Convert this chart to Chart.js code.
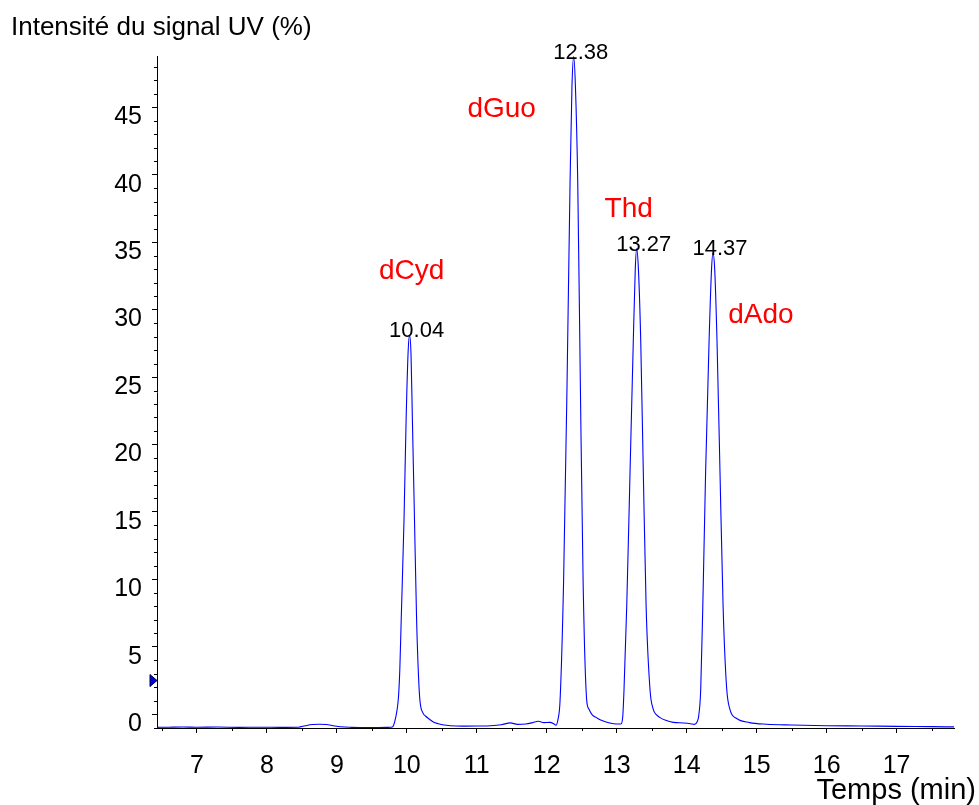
<!DOCTYPE html>
<html>
<head>
<meta charset="utf-8">
<script src="https://cdn.jsdelivr.net/npm/chart.js@4.4.1/dist/chart.umd.min.js"></script>
<style>
  html, body { margin: 0; padding: 0; background: #ffffff; }
  #wrap { position: relative; width: 979px; height: 805px; }
</style>
</head>
<body>
<div id="wrap"><canvas id="c"></canvas></div>
<script>
// ---- data ----
const times = [
  6.43, 6.6, 6.8, 7.0, 7.3, 7.6, 7.9, 8.2, 8.45, 8.55,
  8.65, 8.75, 8.85, 8.95, 9.05, 9.2, 9.4, 9.6, 9.75, 9.80,
  9.83, 9.86, 9.88, 9.90, 9.92, 9.96, 9.99, 10.02, 10.04, 10.06,
  10.08, 10.11, 10.14, 10.17, 10.19, 10.23, 10.27, 10.32, 10.38, 10.45,
  10.53, 10.62, 10.8, 11.0, 11.2, 11.35, 11.48, 11.58, 11.7, 11.8,
  11.88, 11.96, 12.04, 12.1, 12.13, 12.16, 12.19, 12.24, 12.29, 12.333,
  12.36, 12.385, 12.41, 12.443, 12.48, 12.52, 12.57, 12.60, 12.65, 12.71,
  12.78, 12.9, 13.0, 13.06, 13.086, 13.104, 13.143, 13.19, 13.237, 13.265,
  13.285, 13.31, 13.343, 13.38, 13.42, 13.476, 13.52, 13.57, 13.62, 13.7,
  13.81, 13.95, 14.05, 14.11, 14.15, 14.17, 14.20, 14.23, 14.27, 14.32,
  14.355, 14.375, 14.40, 14.433, 14.476, 14.52, 14.57, 14.62, 14.71, 14.9,
  15.14, 15.5, 16.0, 16.5, 17.0, 17.5, 17.82
];
const intensity = [
  -0.97, -0.96, -0.95, -0.96, -0.95, -0.97, -0.96, -0.97, -0.96, -0.85,
  -0.76, -0.74, -0.76, -0.85, -0.93, -0.97, -0.98, -0.98, -0.97, -0.92,
  -0.5, 0.3, 1.2, 3.3, 7.0, 14.4, 21.8, 27.0, 28.1, 26.7,
  21.8, 14.4, 7.0, 2.5, 0.9, 0.1, -0.15, -0.35, -0.58, -0.7,
  -0.8, -0.85, -0.88, -0.87, -0.85, -0.78, -0.64, -0.75, -0.72, -0.62,
  -0.52, -0.62, -0.6, -0.7, -0.82, -0.4, 1.0, 9.7, 24.5, 39.4,
  46.5, 48.75, 46.5, 39.4, 24.5, 9.7, 1.1, 0.4, -0.05, -0.25,
  -0.45, -0.65, -0.72, -0.72, -0.18, 1.8, 8.0, 17.9, 27.7, 33.0,
  34.5, 33.0, 27.7, 17.9, 8.0, 1.8, 0.4, -0.05, -0.25, -0.45,
  -0.6, -0.65, -0.7, -0.75, -0.55, -0.18, 1.8, 8.0, 17.9, 27.7,
  33.0, 34.2, 33.0, 27.7, 17.9, 8.0, 2.0, 0.32, -0.3, -0.62,
  -0.74, -0.8, -0.85, -0.87, -0.9, -0.92, -0.94
];
const peakLabels = ['10.04', '12.38', '13.27', '14.37'];
const compoundNames = ['dCyd', 'dGuo', 'Thd', 'dAdo'];
const xTickValues = [7, 8, 9, 10, 11, 12, 13, 14, 15, 16, 17];
const yTickValues = [0, 5, 10, 15, 20, 25, 30, 35, 40, 45];
const baselineMarkerLevel = 2.5;
const yTitle = 'Intensité du signal UV (%)';
const xTitle = 'Temps (min)';

// ---- presentation ----
const FONT = '"Liberation Sans", Arial, Helvetica, sans-serif';
const nameOffsets = [[2, -56], [-72, 60], [-8, -32], [48, 70]];

const points = times.map((t, i) => ({ x: t, y: intensity[i] }));

const decorPlugin = {
  id: 'decor',
  afterDraw(chart) {
    const ctx = chart.ctx;
    const xs = chart.scales.x, ys = chart.scales.y;
    ctx.save();
    // minor ticks
    ctx.strokeStyle = '#000';
    ctx.lineWidth = 1;
    ctx.beginPath();
    for (let v = Math.ceil(ys.min); v <= ys.max; v += 1) {
      if (v % 5 === 0) continue;
      const py = Math.round(ys.getPixelForValue(v)) + 0.5;
      ctx.moveTo(xs.left - 3, py); ctx.lineTo(xs.left, py);
    }
    for (let v = Math.ceil(xs.min * 2) / 2; v <= xs.max; v += 0.5) {
      if (Number.isInteger(v)) continue;
      const px = Math.round(xs.getPixelForValue(v)) + 0.5;
      ctx.moveTo(px, ys.bottom); ctx.lineTo(px, ys.bottom + 3);
    }
    ctx.stroke();

    // baseline marker triangle
    const my = ys.getPixelForValue(baselineMarkerLevel);
    ctx.fillStyle = '#0000dd';
    ctx.strokeStyle = '#000044';
    ctx.beginPath();
    ctx.moveTo(xs.left - 7, my - 6);
    ctx.lineTo(xs.left, my);
    ctx.lineTo(xs.left - 7, my + 6);
    ctx.closePath();
    ctx.fill();
    ctx.stroke();

    // peak labels and compound names
    peakLabels.forEach((lab, k) => {
      const t = parseFloat(lab);
      let best = -1, bi = -1;
      times.forEach((tt, i) => {
        if (Math.abs(tt - t) < 0.1 && intensity[i] > best) { best = intensity[i]; bi = i; }
      });
      const ax = xs.getPixelForValue(times[bi]);
      const ay = ys.getPixelForValue(intensity[bi]);
      ctx.fillStyle = '#000';
      ctx.font = '22px ' + FONT;
      ctx.textAlign = 'center';
      ctx.textBaseline = 'alphabetic';
      ctx.fillText(lab, ax + 7, ay + 2);
      ctx.fillStyle = '#ff0000';
      ctx.font = '28px ' + FONT;
      ctx.fillText(compoundNames[k], ax + nameOffsets[k][0], ay + nameOffsets[k][1]);
    });

    // axis titles
    ctx.fillStyle = '#000';
    ctx.font = '26px ' + FONT;
    ctx.textAlign = 'left';
    ctx.textBaseline = 'alphabetic';
    ctx.fillText(yTitle, 11, 35);
    ctx.font = '29px ' + FONT;
    ctx.textAlign = 'right';
    ctx.fillText(xTitle, 976, 799);
    ctx.restore();
  }
};

new Chart(document.getElementById('c'), {
  type: 'line',
  data: {
    datasets: [{
      data: points,
      borderColor: '#0000ff',
      borderWidth: 1.1,
      pointRadius: 0,
      fill: false,
      cubicInterpolationMode: 'monotone'
    }]
  },
  options: {
    responsive: true,
    maintainAspectRatio: false,
    animation: false,
    devicePixelRatio: 1,
    layout: { padding: { top: 56, right: 25, left: 0, bottom: 0 } },
    plugins: { legend: { display: false }, tooltip: { enabled: false }, title: { display: false } },
    scales: {
      x: {
        type: 'linear',
        min: 6.43,
        max: 17.82,
        afterBuildTicks: (s) => { s.ticks = xTickValues.map(v => ({ value: v })); },
        afterFit: (s) => { s.height = 77; },
        grid: { drawOnChartArea: false, color: '#000', tickLength: 5 },
        border: { display: true, color: '#000', width: 1 },
        ticks: { color: '#000', font: { family: FONT, size: 25 }, padding: 18, maxRotation: 0, autoSkip: false }
      },
      y: {
        type: 'linear',
        min: -1.02,
        max: 48.8,
        afterBuildTicks: (s) => { s.ticks = yTickValues.map(v => ({ value: v })); },
        afterFit: (s) => { s.width = 157; },
        grid: { drawOnChartArea: false, color: '#000', tickLength: 5 },
        border: { display: true, color: '#000', width: 1 },
        ticks: { color: '#000', font: { family: FONT, size: 25 }, padding: 10, labelOffset: 10, autoSkip: false }
      }
    }
  },
  plugins: [decorPlugin]
});
</script>
</body>
</html>
